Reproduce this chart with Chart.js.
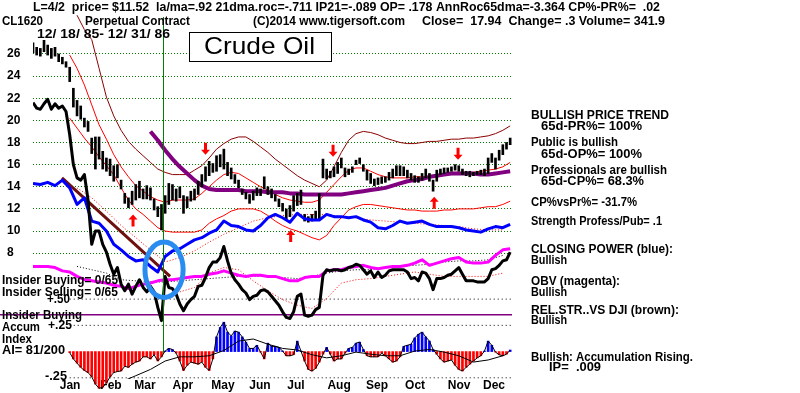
<!DOCTYPE html>
<html><head><meta charset="utf-8">
<script src="https://cdn.jsdelivr.net/npm/chart.js@4.4.1/dist/chart.umd.min.js"></script>
<style>html,body{margin:0;padding:0;background:#fff;}#wrap{width:800px;height:393px;position:relative;}</style>
</head><body><div id="wrap"><canvas id="c"></canvas></div>
<script>
// ---- data (trading-day index: 0 = 12/18/85 ... 261 = 12/31/86) ----
const monthLabels = ['Jan','Feb','Mar','Apr','May','Jun','Jul','Aug','Sep','Oct','Nov','Dec'];
const monthDays = [20.2,42.5,61,81.7,103.5,123.7,143.3,166.8,187.5,208.2,232.2,251.2];
const priceTicks = [8,10,12,14,16,18,20,22,24,26];

// daily price bars sampled every 2 trading days
const priceHigh = [27.0,26.6,26.5,27.3,26.8,26.5,26.6,26.0,25.7,25.3,
24.8,22.9,21.8,21.3,20.2,19.9,18.4,18.5,18.5,17.2,
16.6,16.5,15.9,16.0,14.6,13.4,13.0,13.6,14.2,14.5,
13.8,14.1,13.9,12.9,12.2,12.4,13.2,14.3,14.2,13.8,
14.0,13.2,13.1,13.6,13.8,14.5,15.1,15.8,16.3,16.1,
16.8,16.9,17.4,16.2,15.7,15.1,14.6,13.8,13.5,13.3,
13.6,13.9,13.8,14.9,14.0,13.8,13.3,12.9,12.5,12.0,
12.3,13.2,13.4,13.7,11.5,11.3,11.5,11.8,13.4,16.5,
15.6,15.4,15.8,16.2,16.6,15.7,15.6,15.8,16.4,16.6,
16.0,15.5,15.2,14.7,14.8,14.9,14.9,15.3,15.6,15.9,
15.9,15.8,15.5,15.2,15.0,14.9,15.2,15.6,15.2,14.6,
15.5,15.6,15.7,15.7,15.8,16.0,15.9,15.6,15.4,15.4,
15.3,15.4,15.5,15.6,16.6,17.0,16.6,17.3,17.8,18.0,
18.4];
const priceLow = [26.1,25.9,25.8,26.2,25.9,25.6,25.8,25.3,25.1,24.8,
23.5,21.2,20.4,20.1,19.4,19.0,17.0,15.6,16.5,15.6,
15.4,15.0,14.5,14.8,13.8,12.5,12.1,12.4,12.8,13.0,
12.9,12.9,12.8,11.9,11.3,10.1,11.6,12.4,12.8,12.7,
13.0,11.6,12.1,12.7,12.8,13.3,14.0,14.5,15.0,15.3,
15.4,15.8,15.6,15.0,14.7,14.3,13.9,13.3,12.9,12.5,
12.8,13.2,13.2,13.8,13.3,13.0,12.7,12.2,11.8,11.0,
11.3,11.8,12.3,12.4,10.9,10.8,10.9,11.0,11.1,14.8,
14.7,14.8,14.9,15.2,15.7,14.9,15.1,15.3,16.0,16.1,
15.4,14.6,14.3,14.1,14.2,14.3,14.4,14.6,14.8,15.0,
15.0,15.0,14.8,14.6,14.4,14.4,14.6,14.8,14.5,13.6,
14.5,15.1,15.2,15.3,15.4,15.5,15.4,15.1,15.0,14.9,
15.0,15.1,15.1,15.0,15.2,16.2,15.6,16.4,16.9,17.4,
17.8];
// relative strength (black), every 2 days
const relStrength = [21.6,21.1,21.0,21.5,21.9,21.0,21.5,21.1,21.3,20.8,
18.7,16.0,14.8,14.6,15.1,12.8,8.8,10.0,10.0,8.8,
8.1,7.0,6.1,6.7,5.2,4.6,5.2,4.3,5.0,5.6,
4.9,4.5,5.0,4.5,3.1,1.9,5.9,4.9,4.8,4.3,
3.4,2.8,3.4,3.8,4.1,5.0,5.1,5.8,6.7,7.2,
7.2,7.6,8.6,7.3,6.2,5.6,5.2,4.7,4.4,3.8,
4.1,4.2,4.6,4.7,4.5,4.1,3.7,3.3,2.7,2.2,
2.1,2.7,4.1,4.3,2.4,2.3,2.4,2.9,3.1,6.0,
6.5,6.4,6.5,6.5,6.4,6.5,6.7,6.8,7.0,6.9,
6.5,6.1,6.4,5.8,6.3,5.8,6.0,6.4,6.5,6.5,
6.5,6.5,6.3,5.7,5.8,5.5,6.3,6.2,5.7,4.7,
5.7,5.7,5.8,6.0,6.1,6.4,6.7,6.1,5.5,5.5,
5.5,5.4,5.4,5.4,5.7,6.5,6.6,6.9,7.3,7.4,
8.1];
// accumulation index, every 2 days
const accumIndex = [null,null,null,null,null,null,null,null,null,null,
-0.01,-0.07,-0.11,-0.15,-0.18,-0.20,-0.24,-0.31,-0.35,-0.34,
-0.30,-0.24,-0.20,-0.19,-0.185,-0.14,-0.15,-0.12,-0.10,-0.09,
-0.05,-0.05,-0.07,-0.03,-0.09,-0.05,0.005,0.03,0.02,-0.015,
-0.09,-0.18,-0.13,-0.10,-0.11,-0.12,-0.10,-0.15,-0.18,-0.07,
0.14,0.23,0.28,0.185,0.15,0.195,0.185,0.14,0.09,0.03,
0.03,0.06,-0.005,-0.07,0.08,0.05,0.05,0.04,0.005,-0.04,
-0.04,-0.03,0.10,0.005,-0.09,-0.17,-0.185,-0.16,-0.10,-0.025,
0.04,-0.025,-0.09,-0.07,-0.07,-0.015,0.03,0.04,0.08,0.09,
0.02,-0.04,-0.05,-0.05,-0.05,-0.015,-0.04,-0.07,-0.10,-0.09,
-0.05,0.05,0.06,0.07,0.13,0.165,0.185,0.14,0.10,0.02,
-0.025,-0.07,-0.10,-0.09,-0.08,-0.13,-0.17,-0.185,-0.15,-0.12,
-0.09,-0.06,-0.04,0.005,0.10,0.06,-0.005,-0.03,-0.04,-0.025,
0.015];
// every 4 days
const closingPower = [14.3,14.2,14.4,14.1,14.6,13.9,12.4,13.0,10.9,10.7,
10.0,8.8,8.3,7.7,7.3,7.4,6.8,6.3,7.7,8.2,
8.4,8.8,9.2,9.4,9.8,10.1,10.9,10.5,10.4,10.1,
10.0,10.5,11.2,11.5,11.2,10.8,11.6,11.1,11.0,11.0,
11.5,11.3,11.3,11.2,11.3,11.0,10.8,10.3,10.2,10.5,
10.9,10.7,10.8,10.9,10.6,10.4,10.4,10.4,10.3,10.1,
10.0,9.9,10.2,10.4,10.3,10.6];
const obv = [6.8,6.8,6.8,6.7,6.4,6.3,5.9,5.6,5.5,5.4,
5.3,5.1,5.0,4.8,5.0,5.2,5.3,5.5,5.6,5.6,
5.7,5.8,5.9,5.9,6.1,6.2,6.4,6.2,6.0,5.9,
6.0,6.0,5.9,5.9,5.7,5.5,5.5,5.8,5.9,5.9,
6.4,6.5,6.5,6.7,6.8,6.9,6.7,6.6,6.7,6.8,
6.8,6.9,7.1,7.4,6.9,7.1,7.3,7.5,7.6,7.2,
7.1,7.1,7.2,7.8,8.3,8.4];
const ma65 = [null,null,null,null,null,null,null,null,null,null,null,null,null,null,null,null,
19.0,18.2,17.3,16.5,15.8,15.2,14.6,14.1,13.8,13.7,
13.7,13.7,13.7,13.6,13.6,13.6,13.5,13.5,13.5,13.4,
13.4,13.3,13.3,13.3,13.3,13.3,13.3,13.4,13.5,13.6,
13.7,13.8,13.9,14.1,14.3,14.5,14.6,14.7,14.9,15.0,
15.1,15.2,15.2,15.2,15.2,15.1,15.1,15.2,15.3,15.4];
const bandOuter = [null,null,null,null,null,null,
29.5,28.2,27.3,24.7,22.1,20.4,19.1,18.1,17.4,16.8,
16.2,15.6,15.3,15.1,15.1,15.1,15.5,15.9,16.6,17.4,
17.9,18.3,18.5,18.5,18.1,17.6,17.1,16.5,16.0,15.5,
15.0,14.6,14.3,14.0,14.6,15.8,17.1,18.2,18.8,19.0,
18.9,18.7,18.4,18.2,18.0,17.9,17.9,18.0,18.1,18.1,
18.2,18.3,18.3,18.4,18.4,18.5,18.6,18.8,19.1,19.5];
const bandUpper = [null,null,null,null,null,
25.9,24.7,23.2,21.4,19.6,18.3,16.9,15.8,14.9,14.1,
13.6,13.1,12.8,12.6,12.8,12.8,12.8,12.9,13.4,14.0,
14.6,15.1,15.3,15.2,14.8,14.4,14.0,13.7,13.3,13.0,
12.8,12.7,12.6,12.6,12.8,13.5,14.2,14.9,15.5,15.7,
15.7,15.4,15.1,14.9,14.8,14.8,14.8,14.9,14.9,14.9,
15.0,15.1,15.3,15.3,15.3,15.3,15.4,15.5,15.6,15.8,
16.2];
const bandLower = [null,null,null,null,null,
20.2,19.3,18.4,17.6,16.7,15.9,15.1,13.9,12.8,12.0,
11.5,10.9,10.3,10.0,9.9,9.9,9.9,9.9,10.1,10.7,
11.1,11.4,11.8,12.0,12.0,12.0,11.8,11.4,10.9,10.5,
10.2,10.0,9.7,9.4,9.2,9.6,10.5,11.2,11.9,12.2,
12.4,12.4,12.3,12.2,12.1,12.0,11.9,11.9,11.8,11.8,
11.8,11.9,11.9,12.0,12.0,12.0,12.1,12.2,12.2,12.4,
12.7];
// every 8 days
const cpAverage = [null,null,null,13.9,13.0,11.8,10.5,9.4,8.3,7.2,
7.6,8.2,9.0,9.7,10.3,10.9,11.2,11.4,11.5,11.5,
11.5,11.3,11.2,11.0,10.9,10.8,10.7,10.6,10.5,10.4,
10.2,10.1,10.1];
const rsAverage = [null,null,null,null,null,null,null,null,null,null,
4.5,4.9,6.2,6.7,6.5,5.5,4.6,3.8,3.3,3.0,
3.9,5.3,5.6,5.7,5.9,6.1,6.3,6.1,5.9,5.9,
5.9,5.9,6.2];
const obvAverage = [null,null,null,6.8,6.5,6.2,5.6,5.5,5.4,5.4,
5.5,5.6,5.7,5.8,5.9,5.9,5.9,5.8,5.7,5.9,
6.2,6.4,6.5,6.5,6.7,6.8,6.9,7.0,7.2,7.3,
7.3,7.4,7.8];
const accumAverage = [null,null,null,null,null,null,-0.29,-0.23,-0.17,-0.09,
-0.05,-0.05,-0.04,0.01,0.10,0.12,0.07,0.03,0.015,-0.03,
-0.06,-0.04,-0.005,-0.025,-0.04,-0.04,0.005,0.02,-0.005,-0.04,
-0.10,-0.08,-0.04];
const trendDays = [15.8, 74.7];
const trendPrices = [14.8, 5.9];
const refLevels = [0.5, 0.25, -0.25];
const insiderLevel = 0.35;
const signalDay = 71;
const buyDays = [54.5, 140.4, 218.6], buyPrices = [11.5, 10.1, 13.1];
const sellDays = [94, 163.5, 231.6], sellPrices = [16.9, 16.7, 16.45];
const circleDay = 71.4, circlePrice = 6.5, circleDaysR = 10.4, circlePriceR = 2.5;

// ---- helpers ----
const series = (arr, step) => arr.map((v, i) => ({x: i * step, y: v})).filter(p => p.y !== null);
const lineDS = (data, color, width, extra) => Object.assign({
  type: 'line', data, borderColor: color, borderWidth: width, pointRadius: 0,
  fill: false, tension: 0, yAxisID: 'y', borderJoinStyle: 'round'
}, extra || {});

const datasets = [
  lineDS(series(relStrength, 2), '#000000', 3),
  lineDS(series(closingPower, 4), '#0000ff', 3),
  lineDS(series(obv, 4), '#ff00ff', 3),
  {type: 'bar', data: priceHigh.map((h, i) => ({x: i * 2, y: [priceLow[i], h]})),
   backgroundColor: '#000', barThickness: 2, grouped: false, yAxisID: 'y'},
  lineDS(series(ma65, 4), '#800080', 4),
  lineDS(trendDays.map((d, i) => ({x: d, y: trendPrices[i]})), '#6e1010', 3),
  lineDS(series(bandOuter, 4), '#8b0000', 1, {clip: false}),
  lineDS(series(bandUpper, 4), '#ff0000', 1),
  lineDS(series(bandLower, 4), '#ff0000', 1),
  lineDS(series(cpAverage, 8), '#ff0000', 1, {borderDash: [1, 2]}),
  lineDS(series(rsAverage, 8), '#ff0000', 1, {borderDash: [1, 2]}),
  lineDS(series(obvAverage, 8), '#000000', 1, {borderDash: [1, 2]}),
  lineDS(series(accumIndex, 2), '#000000', 1, {yAxisID: 'y3', clip: false}),
  lineDS(series(accumAverage, 8), '#000000', 1, {yAxisID: 'y3'}),
  {type: 'bar', data: series(accumIndex, 2), yAxisID: 'y3', grouped: false, barThickness: 2, clip: false,
   backgroundColor: accumIndex.filter(v => v !== null).map(v => v >= 0 ? '#0000ff' : '#ff0000')},
  ...refLevels.map(l => lineDS([{x: 20, y: l}, {x: 261, y: l}], '#000000', 1, {yAxisID: 'y3', borderDash: [1, 3]})),
  lineDS([{x: -18, y: insiderLevel}, {x: 261, y: insiderLevel}], '#800080', 1.5, {yAxisID: 'y3', clip: false})
];

function txt(ctx, s, x, y, size, w, weight) {
  ctx.font = (weight || 'bold') + ' ' + size + 'px "Liberation Sans", Arial, sans-serif';
  ctx.fillStyle = '#000'; ctx.textBaseline = 'middle'; ctx.textAlign = 'left';
  const m = ctx.measureText(s).width;
  ctx.save(); ctx.translate(x, y);
  if (w) ctx.scale(w / m, 1);
  ctx.fillText(s, 0, 0); ctx.restore();
}
function arrow(ctx, x, yTip, up) {
  const s = up ? 1 : -1, L = 12, hw = 4.5, hh = 5, sw = 1.5;
  ctx.beginPath();
  ctx.moveTo(x, yTip);
  ctx.lineTo(x + hw, yTip + s * hh); ctx.lineTo(x + sw, yTip + s * hh);
  ctx.lineTo(x + sw, yTip + s * L); ctx.lineTo(x - sw, yTip + s * L);
  ctx.lineTo(x - sw, yTip + s * hh); ctx.lineTo(x - hw, yTip + s * hh);
  ctx.closePath(); ctx.fillStyle = '#ff0000'; ctx.fill();
}

const overlay = {
  id: 'overlay',
  afterDatasetsDraw(chart) {
    const ctx = chart.ctx, xs = chart.scales.x, ys = chart.scales.y;
    const vx = Math.round(xs.getPixelForValue(signalDay)) + 0.5;
    ctx.save(); ctx.strokeStyle = '#008000'; ctx.lineWidth = 1;
    ctx.beginPath(); ctx.moveTo(vx, 17); ctx.lineTo(vx, 353); ctx.stroke(); ctx.restore();
    buyDays.forEach((d, i) => arrow(ctx, xs.getPixelForValue(d), ys.getPixelForValue(buyPrices[i]), true));
    sellDays.forEach((d, i) => arrow(ctx, xs.getPixelForValue(d), ys.getPixelForValue(sellPrices[i]), false));
    const cx = xs.getPixelForValue(circleDay), cy = ys.getPixelForValue(circlePrice);
    const rx = xs.getPixelForValue(circleDay + circleDaysR) - cx;
    const ry = ys.getPixelForValue(circlePrice - circlePriceR) - cy;
    ctx.save(); ctx.strokeStyle = '#2b8cf0'; ctx.lineWidth = 5;
    ctx.beginPath(); ctx.ellipse(cx, cy, rx, ry, 0, 0, Math.PI * 2); ctx.stroke(); ctx.restore();
  },
  afterDraw(chart) {
    const ctx = chart.ctx;
    txt(ctx, 'L=4/2  price= $11.52  la/ma=.92 21dma.roc=-.711 IP21=-.089 OP= .178 AnnRoc65dma=-3.364 CP%-PR%=  .02', 33, 7.5, 13, 627);
    txt(ctx, 'CL1620', 2, 21, 13, 41);
    txt(ctx, 'Perpetual Contract', 85, 21, 13, 105);
    txt(ctx, '(C)2014 www.tigersoft.com', 253, 21, 13, 152);
    txt(ctx, 'Close=  17.94  Change= .3 Volume= 341.9', 422, 21, 13, 243);
    txt(ctx, '12/ 18/ 85- 12/ 31/ 86', 37, 34, 13, 133);
    ctx.save(); ctx.fillStyle = '#fff'; ctx.strokeStyle = '#000'; ctx.lineWidth = 1;
    ctx.fillRect(189.5, 32.5, 142, 29); ctx.strokeRect(189.5, 32.5, 142, 29); ctx.restore();
    txt(ctx, 'Crude Oil', 204, 47.5, 24, 111, 'normal');
    const right = [
      ['BULLISH PRICE TREND', 531, 116, 138], ['65d-PR%= 100%', 541, 127, 101],
      ['Public is bullish', 531, 143, 87], ['65d-OP%= 100%', 541, 155, 101],
      ['Professionals are bullish', 531, 171, 136], ['65d-CP%= 68.3%', 541, 182, 103],
      ['CP%vsPr%= -31.7%', 531, 203, 106], ['Strength Profess/Pub= .1', 531, 222, 131],
      ['CLOSING POWER (blue):', 531, 250, 142], ['Bullish', 531, 261, 36],
      ['OBV (magenta):', 531, 282, 89], ['Bullish', 531, 293, 36],
      ['REL.STR..VS DJI (brown):', 531, 311, 148], ['Bullish', 531, 321, 36],
      ['Bullish: Accumulation Rising.', 531, 358, 162], ['IP=  .009', 549, 368, 52]
    ];
    right.forEach(r => txt(ctx, r[0], r[1], r[2], 12, r[3]));
    const left = [
      ['+.50', 47, 300, 23], ['Insider Buying= 0/65', 2, 281, 116], ['Insider Selling= 0/65', 2, 293, 116],
      ['Insider Buying', 2, 316, 80], ['Accum', 2, 328, 38], ['+.25', 48, 326, 24],
      ['Index', 2, 340, 30], ['AI= 81/200', 2, 351, 63], ['-.25', 45, 377, 22]
    ];
    left.forEach(r => txt(ctx, r[0], r[1], r[2], 12, r[3]));
  }
};

new Chart(document.getElementById('c'), {
  type: 'line',
  data: {datasets},
  plugins: [overlay],
  options: {
    responsive: true, maintainAspectRatio: false, animation: false, devicePixelRatio: 1,
    layout: {padding: {left: 7, right: 288, top: 40, bottom: 0}},
    plugins: {legend: {display: false}, tooltip: {enabled: false}},
    scales: {
      x: {
        type: 'linear', min: 0, max: 261, offset: false,
        grid: {display: false, drawTicks: false}, border: {display: false},
        afterBuildTicks: s => { s.ticks = monthDays.map(v => ({value: v})); },
        ticks: {autoSkip: false, maxRotation: 0, padding: 1, color: '#000',
          font: {family: '"Liberation Sans", Arial, sans-serif', size: 12, weight: 'bold', lineHeight: 1},
          callback: (v, i) => monthLabels[i]}
      },
      y: {
        type: 'linear', position: 'left', min: -3.37, max: 27.26,
        afterBuildTicks: s => { s.ticks = priceTicks.map(v => ({value: v})); },
        afterFit: s => { s.width = 26; },
        grid: {color: '#008000', lineWidth: 1, drawTicks: false},
        border: {display: false, dash: [1, 2]},
        ticks: {crossAlign: 'far', padding: 0, color: '#000',
          font: {family: '"Liberation Sans", Arial, sans-serif', size: 12, weight: 'bold'}}
      },
      y3: {type: 'linear', display: false, min: -0.2614, max: 2.97}
    }
  }
});
</script></body></html>
